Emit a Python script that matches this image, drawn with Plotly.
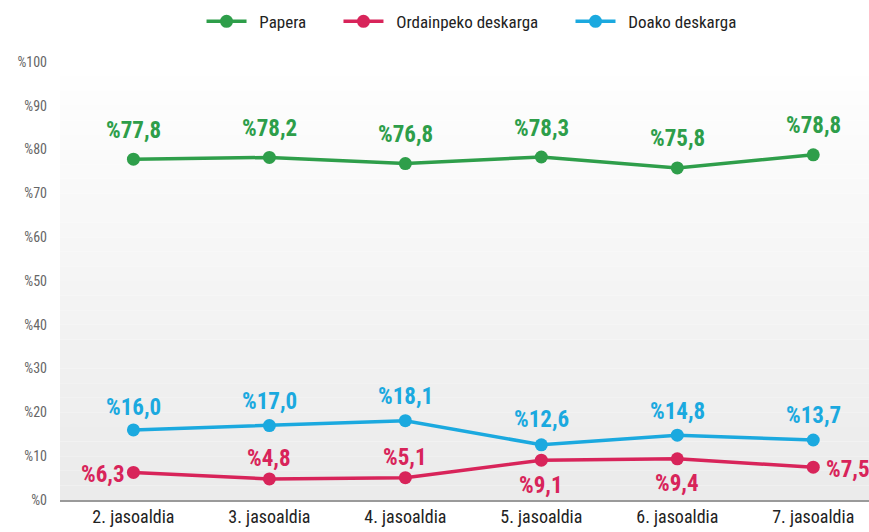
import plotly.graph_objects as go

# categories and series values
jasoaldiak = ["2. jasoaldia", "3. jasoaldia", "4. jasoaldia", "5. jasoaldia", "6. jasoaldia", "7. jasoaldia"]
papera = [77.8, 78.2, 76.8, 78.3, 75.8, 78.8]
ordainpeko = [6.3, 4.8, 5.1, 9.1, 9.4, 7.5]
doako = [16.0, 17.0, 18.1, 12.6, 14.8, 13.7]
y_ticks = [0, 10, 20, 30, 40, 50, 60, 70, 80, 90, 100]

green = "#2e9e4a"
pink = "#d8245a"
blue = "#1ba9df"
font_family = "Liberation Sans Narrow, Roboto Condensed, Roboto, sans-serif"
NB = "\u00a0"


def lbl(v):
    return "%" + ("%.1f" % v).replace(".", ",")


fig = go.Figure()

# soft gray gradient background of the plot area
n_strips = 30
for i in range(n_strips):
    g = int(255 - (255 - 235) * (i / (n_strips - 1)))
    fig.add_shape(type="rect", xref="x domain", yref="y domain",
                  x0=0, x1=1, y0=1 - (i + 1) / n_strips, y1=1 - i / n_strips,
                  fillcolor="rgb(%d,%d,%d)" % (g, g, g), line_width=0, layer="below")

# label offsets (x shift, y shift) per point
offsets = {
    "Papera": [(0, 29)] * 6,
    "Ordainpeko deskarga": [(-30, -2), (0, 20), (0, 20), (0, -25), (0, -25), (35, -2)],
    "Doako deskarga": [(0, 22), (0, 24), (0, 24), (0, 25), (0, 24), (0, 24)],
}

series = [("Papera", papera, green), ("Ordainpeko deskarga", ordainpeko, pink), ("Doako deskarga", doako, blue)]

for name, vals, col in series:
    fig.add_trace(go.Scatter(
        x=jasoaldiak, y=vals, name=NB * 2 + name + NB * 7, mode="lines+markers",
        line=dict(color=col, width=3.5),
        marker=dict(color=col, size=13),
        cliponaxis=False,
    ))
    for cat, v, (dx, dy) in zip(jasoaldiak, vals, offsets[name]):
        fig.add_annotation(x=cat, y=v, text="<b>" + lbl(v) + "</b>", showarrow=False,
                           xshift=dx, yshift=dy, xanchor="center", yanchor="middle",
                           font=dict(color=col, size=23, family=font_family))

fig.update_layout(
    width=869, height=532,
    margin=dict(l=60, r=0, t=10, b=32),
    paper_bgcolor="white", plot_bgcolor="white",
    font=dict(family=font_family, color="#333333"),
    showlegend=True,
    legend=dict(orientation="h", x=0.526, y=0.976, xanchor="center", yanchor="middle",
                font=dict(size=17, color="#222222"), itemwidth=40, bgcolor="rgba(0,0,0,0)"),
    xaxis=dict(range=[-0.54, 5.41], showgrid=False, zeroline=False, automargin=False,
               showline=True, linecolor="#9a9a9a", linewidth=1.5,
               tickfont=dict(size=18, color="#222222"), ticks=""),
    yaxis=dict(range=[0, 100], domain=[0, 0.894], tickvals=y_ticks,
               ticktext=["%" + str(t) for t in y_ticks], automargin=False,
               showgrid=False, zeroline=False, showline=False,
               tickfont=dict(size=14, color="#666666"), ticklabelstandoff=12),
)

fig.write_html("out.html", config={"displayModeBar": False},
               post_script="document.body.style.margin='0';")
